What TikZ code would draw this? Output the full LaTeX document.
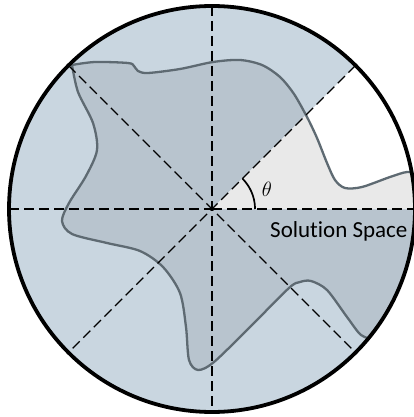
\documentclass[tikz,border=0pt]{standalone}
\usepackage{fontspec}
\setmainfont[Ligatures=NoCommon]{Carlito}
\definecolor{outerblue}{HTML}{C9D6E0}
\definecolor{blobblue}{HTML}{B8C4CE}
\definecolor{wedgegray}{HTML}{E9E9E9}
\definecolor{blobedge}{HTML}{5E6A72}
\begin{document}
\begin{tikzpicture}[x=1pt,y=-1pt,
  dashline/.style={black, line width=1.4pt, dash pattern=on 10pt off 5pt},
  blobline/.style={draw=blobedge, line width=2.3pt},
  rim/.style={draw=black, line width=3.8pt}]
\useasboundingbox (0,0) rectangle (414,417);
\coordinate (O) at (212,209);
\path[save path=\blobpath]
  plot[smooth,tension=0.5] coordinates {(72,65) (95,62) (128,63) (134,66) (138,71) (148,73) (180,69) (213,62) (240,60) (262,65) (280,77) (294,94) (307,117) (317,138) (327,163) (335,180) (345,188) (362,187) (390,177) (407,172) (420,174)}
  -- (440,174) -- (440,340) --
  plot[smooth,tension=0.5] coordinates {(375,340) (361,335) (347,317) (327,290) (311,281) (300,282) (289,288) (250,327) (214,362) (198,370) (189,360) (186,327) (180,293) (163,267) (140,251) (107,243) (72,234) (62,221) (69,203) (86,176) (97,150) (93,123) (78,92) (72,65)}
  -- cycle;
\begin{scope}
  \clip (O) circle[radius=203];
  \fill[outerblue] (O) circle[radius=203];
  \fill[blobblue, use path=\blobpath];
  \begin{scope}
    \clip (O) -- (440,209) -- (440,-19) -- cycle;
    \fill[white] (O) circle[radius=203];
    \fill[wedgegray, use path=\blobpath];
  \end{scope}
  \draw[blobline, use path=\blobpath];
\end{scope}
\coordinate (W) at (9,209);
\coordinate (E) at (415,209);
\coordinate (N) at (212,6);
\coordinate (S) at (212,412);
\coordinate (NW) at (68.5,65.5);
\coordinate (SE) at (355.5,352.5);
\coordinate (NE) at (355.5,65.5);
\coordinate (SW) at (68.5,352.5);
\draw[dashline] (W) -- (O);
\draw[dashline, line width=2pt] (O) -- (E);
\draw[dashline] (N) -- (S);
\draw[dashline] (NW) -- (SE);
\draw[dashline] (NE) -- (SW);
\draw[rim] (O) circle[radius=203];
\draw[black, line width=1.7pt] plot[domain=0:45, samples=30, smooth] ({212+43*cos(\x)},{209-43*sin(\x)});
\node[font=\fontsize{20.5}{24}\selectfont, inner sep=0pt] (theta) at (267,189) {$\theta$};
\node[anchor=base west, font=\fontsize{23}{26}\selectfont, inner sep=0pt] (label) at (270,237) {Solution Space};
\end{tikzpicture}
\end{document}
